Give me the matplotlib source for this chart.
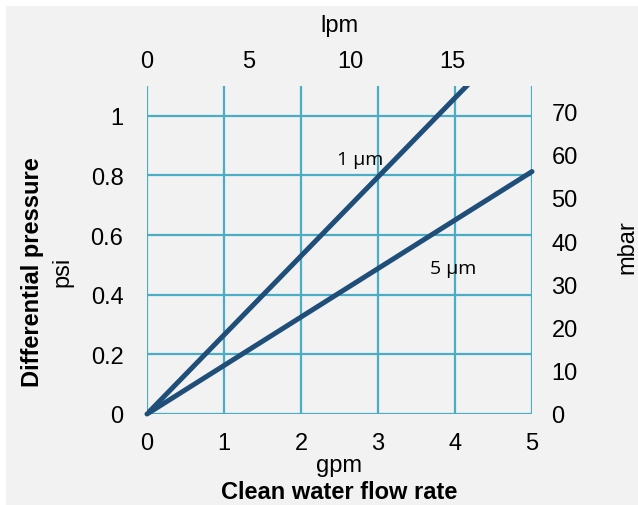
import matplotlib
matplotlib.use("Agg")
import matplotlib.pyplot as plt
from matplotlib.patches import Rectangle

# Data
flow_gpm = [0, 5]
dp_1um = [0, 1.325]
dp_5um = [0, 0.813]
x_ticks = [0, 1, 2, 3, 4, 5]
y_ticks = [0, 0.2, 0.4, 0.6, 0.8, 1]
y_ticklabels = ["0", "0.2", "0.4", "0.6", "0.8", "1"]
lpm_ticks = [0, 5, 10, 15]
mbar_ticks = [0, 10, 20, 30, 40, 50, 60, 70]

GPM_TO_LPM = 3.785
PSI_TO_MBAR = 68.95

plt.rcParams['font.family'] = ['Liberation Sans', 'DejaVu Sans']

W, H = 638, 506
FS = 17
fig = plt.figure(figsize=(W/100, H/100), dpi=100, facecolor='white')
bg = '#f2f2f2'
fig.patches.append(Rectangle((6/W, 0), 1, (H-7)/H, transform=fig.transFigure,
                             facecolor=bg, edgecolor='none', zorder=-10))

ax = fig.add_axes([147/W, (H-415)/H, 385/W, (415-87)/H])
ax.set_facecolor(bg)
ax.set_xlim(0, 5)
ax.set_ylim(0, 1.1)
for s in ax.spines.values():
    s.set_visible(False)
grid_c = '#4BACC6'
ax.set_xticks(x_ticks)
ax.set_yticks(y_ticks)
ax.set_yticklabels(y_ticklabels)
ax.grid(True, color=grid_c, linewidth=1.6)
ax.set_axisbelow(True)
ax.tick_params(axis='y', length=0, labelsize=FS, pad=17)
ax.tick_params(axis='x', length=0, labelsize=FS, pad=13)

line_c = '#1F4E79'
ax.plot(flow_gpm, dp_1um, color=line_c, linewidth=3.6, solid_capstyle='round')
ax.plot(flow_gpm, dp_5um, color=line_c, linewidth=3.6, solid_capstyle='round', clip_on=False)

ax.text(2.77, 0.855, "1 µm", fontsize=14, family=['Open Sans', 'DejaVu Sans'],
        ha='center', va='center')
ax.text(3.97, 0.49, "5 µm", fontsize=14, family=['Open Sans', 'DejaVu Sans'],
        ha='center', va='center')

top = ax.secondary_xaxis('top', functions=(lambda x: x*GPM_TO_LPM, lambda x: x/GPM_TO_LPM))
top.set_xticks(lpm_ticks)
top.tick_params(length=0, labelsize=FS, pad=10)
for s in top.spines.values():
    s.set_visible(False)

right = ax.secondary_yaxis('right', functions=(lambda y: y*PSI_TO_MBAR, lambda y: y/PSI_TO_MBAR))
right.set_yticks(mbar_ticks)
right.tick_params(length=0, labelsize=FS, pad=14)
for s in right.spines.values():
    s.set_visible(False)

fig.text(339/W, 1-26/H, "lpm", fontsize=FS, ha='center', va='center')
fig.text(339/W, 1-466/H, "gpm", fontsize=FS, ha='center', va='center')
fig.text(339/W, 1-493/H, "Clean water flow rate", fontsize=FS, fontweight='bold',
         ha='center', va='center')
fig.text(33/W, 1-272/H, "Differential pressure", fontsize=FS, fontweight='bold',
         rotation=90, ha='center', va='center')
fig.text(62/W, 1-272/H, "psi", fontsize=FS, rotation=90, ha='center', va='center')
fig.text(627/W, 1-247/H, "mbar", fontsize=FS, rotation=90, ha='center', va='center')

fig.savefig("out.png", dpi=100, facecolor=fig.get_facecolor())
